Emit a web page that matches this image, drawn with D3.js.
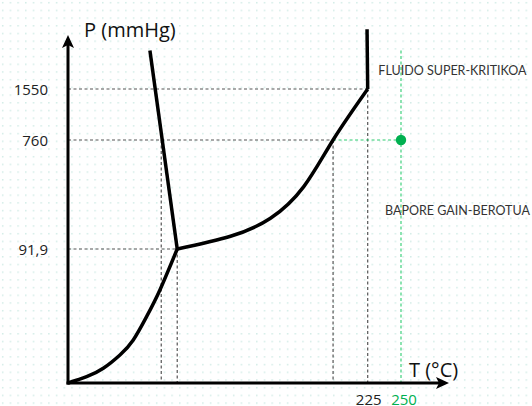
<!DOCTYPE html>
<html>
<head>
<meta charset="utf-8">
<script src="https://cdn.jsdelivr.net/npm/d3@7"></script>
<style>
  html, body { margin: 0; padding: 0; background: #fff; }
  svg { display: block; }
</style>
</head>
<body>
<svg id="chart" width="532" height="406"></svg>
<script>
// Phase diagram: temperature (°C) vs pressure (mmHg), schematic scale.

// Pressure tick values and their labels
const pTicks = [91.9, 760, 1550];
const pTickLabels = ["91,9", "760", "1550"];

// Temperature tick values and labels
const tTicks = [225, 250];
const tTickLabels = ["225", "250"];

// Solid–gas boundary (sublimation curve): [T, P]
const sublimation = [[0, 0], [14, 4.3], [26.5, 10.1], [39, 19.2], [49, 29.5], [59, 45.5], [69, 63.8], [82, 91.9]];

// Liquid–gas boundary (vaporization curve), triple point to critical point
const vaporization = [[82, 91.9], [122, 170], [152, 280], [177, 474], [199, 760], [225, 1550]];

// Solid–liquid boundary (fusion line)
const fusion = [[61.5, 2150], [82, 91.9]];

// Supercritical boundary above the critical point
const supercritical = [[225, 1550], [224.5, 2480]];

// Key points
const triplePoint = [82, 91.9];
const criticalPoint = [225, 1550];
const meltAt760 = [70, 760];
const boilAt760 = [199, 760];
const statePoint = [250, 760];

// Region labels
const regionLabels = [
  { text: "FLUIDO SUPER-KRITIKOA", T: 233, P: 1767 },
  { text: "BAPORE GAIN-BEROTUA", T: 238, P: 300 }
];

const svg = d3.select("#chart");

// Scales: linear temperature, piecewise pressure
const x = d3.scaleLinear().domain([0, 250]).range([68, 401]);
const y = d3.scaleLinear()
  .domain([0, 91.9, 760, 1550, 2500])
  .range([383, 249, 140, 89, 28]);

// Dotted background
const defs = svg.append("defs");
const pat = defs.append("pattern")
  .attr("id", "dots").attr("patternUnits", "userSpaceOnUse")
  .attr("width", 7.7).attr("height", 7.7);
pat.append("rect").attr("x", 2).attr("y", 2).attr("width", 1.4).attr("height", 1.4)
  .attr("fill", "#b9e0d8").attr("opacity", 0.75);
svg.append("rect").attr("width", 532).attr("height", 406).attr("fill", "url(#dots)");

const line = d3.line().x(d => x(d[0])).y(d => y(d[1]));
const curve = d3.line().x(d => x(d[0])).y(d => y(d[1])).curve(d3.curveNatural);

const gray = "#555";
const green = "#2ecc71";

// Dashed reference lines
const guides = svg.append("g").attr("fill", "none").attr("stroke", gray)
  .attr("stroke-width", 1.2).attr("stroke-dasharray", "3,2.5");
guides.append("path").attr("d", line([[0, criticalPoint[1]], criticalPoint]));
guides.append("path").attr("d", line([[0, 760], boilAt760]));
guides.append("path").attr("d", line([[0, triplePoint[1]], triplePoint]));
guides.append("path").attr("d", line([meltAt760, [meltAt760[0], 0]]));
guides.append("path").attr("d", line([triplePoint, [triplePoint[0], 0]]));
guides.append("path").attr("d", line([boilAt760, [boilAt760[0], 0]]));
guides.append("path").attr("d", line([criticalPoint, [criticalPoint[0], 0]]));

// Green guides to the state point
const gGuides = svg.append("g").attr("fill", "none").attr("stroke", green)
  .attr("stroke-width", 1.1).attr("stroke-dasharray", "3,2.5");
gGuides.append("path").attr("d", line([boilAt760, statePoint]));
gGuides.append("path").attr("d", line([[statePoint[0], 2150], [statePoint[0], 0]]));

// Phase boundaries
const bounds = svg.append("g").attr("fill", "none").attr("stroke", "#000")
  .attr("stroke-width", 3.5).attr("stroke-linejoin", "round").attr("stroke-linecap", "butt");
bounds.append("path").attr("d", curve(sublimation));
bounds.append("path").attr("d", curve(vaporization));
bounds.append("path").attr("d", line(fusion));
bounds.append("path").attr("d", line(supercritical));

// State point
svg.append("circle").attr("cx", x(statePoint[0])).attr("cy", y(statePoint[1]))
  .attr("r", 5.2).attr("fill", "#00b050");

// Axes with arrowheads
const axes = svg.append("g").attr("stroke", "#000").attr("stroke-width", 3).attr("fill", "none");
const x0 = x(0), y0 = y(0), yTop = 37, xEnd = 447;
axes.append("path").attr("d", `M${x0},${y0 + 1.5}V${yTop + 6}`);
axes.append("path").attr("d", `M${x0 - 1.5},${y0}H${xEnd - 6}`);
svg.append("path").attr("fill", "#000")
  .attr("d", `M${x0},${yTop - 2} L${x0 + 6},${yTop + 11} L${x0},${yTop + 8} L${x0 - 6},${yTop + 11}Z`);
svg.append("path").attr("fill", "#000")
  .attr("d", `M${xEnd + 2},${y0} L${xEnd - 11},${y0 + 6} L${xEnd - 8},${y0} L${xEnd - 11},${y0 - 6}Z`);

const font = "'Open Sans', Lato, sans-serif";

// Pressure tick labels
svg.append("g").selectAll("text").data(pTicks).join("text")
  .attr("x", 48).attr("y", d => y(d) + 5.5)
  .attr("text-anchor", "end").attr("font-family", font).attr("font-size", 15)
  .attr("fill", "#222").text((d, i) => pTickLabels[i]);

// Temperature tick labels
svg.append("g").selectAll("text").data(tTicks).join("text")
  .attr("x", d => x(d) + (d === 250 ? 3 : 1)).attr("y", 405)
  .attr("text-anchor", "middle")
  .attr("font-family", font).attr("font-size", 15)
  .attr("fill", d => d === 250 ? "#00b050" : "#222").text((d, i) => tTickLabels[i]);

// Axis titles
svg.append("text").attr("x", 84).attr("y", 37).attr("font-family", font)
  .attr("font-size", 20).attr("fill", "#111").text("P (mmHg)");
svg.append("text").attr("x", 409).attr("y", 377).attr("font-family", font)
  .attr("font-size", 20).attr("fill", "#111").text("T (°C)");

// Region labels
svg.append("g").selectAll("text").data(regionLabels).join("text")
  .attr("x", d => x(d.T)).attr("y", d => y(d.P))
  .attr("font-family", "Lato, sans-serif").attr("font-size", 12.5).attr("fill", "#333")
  .text(d => d.text);
</script>
</body>
</html>
